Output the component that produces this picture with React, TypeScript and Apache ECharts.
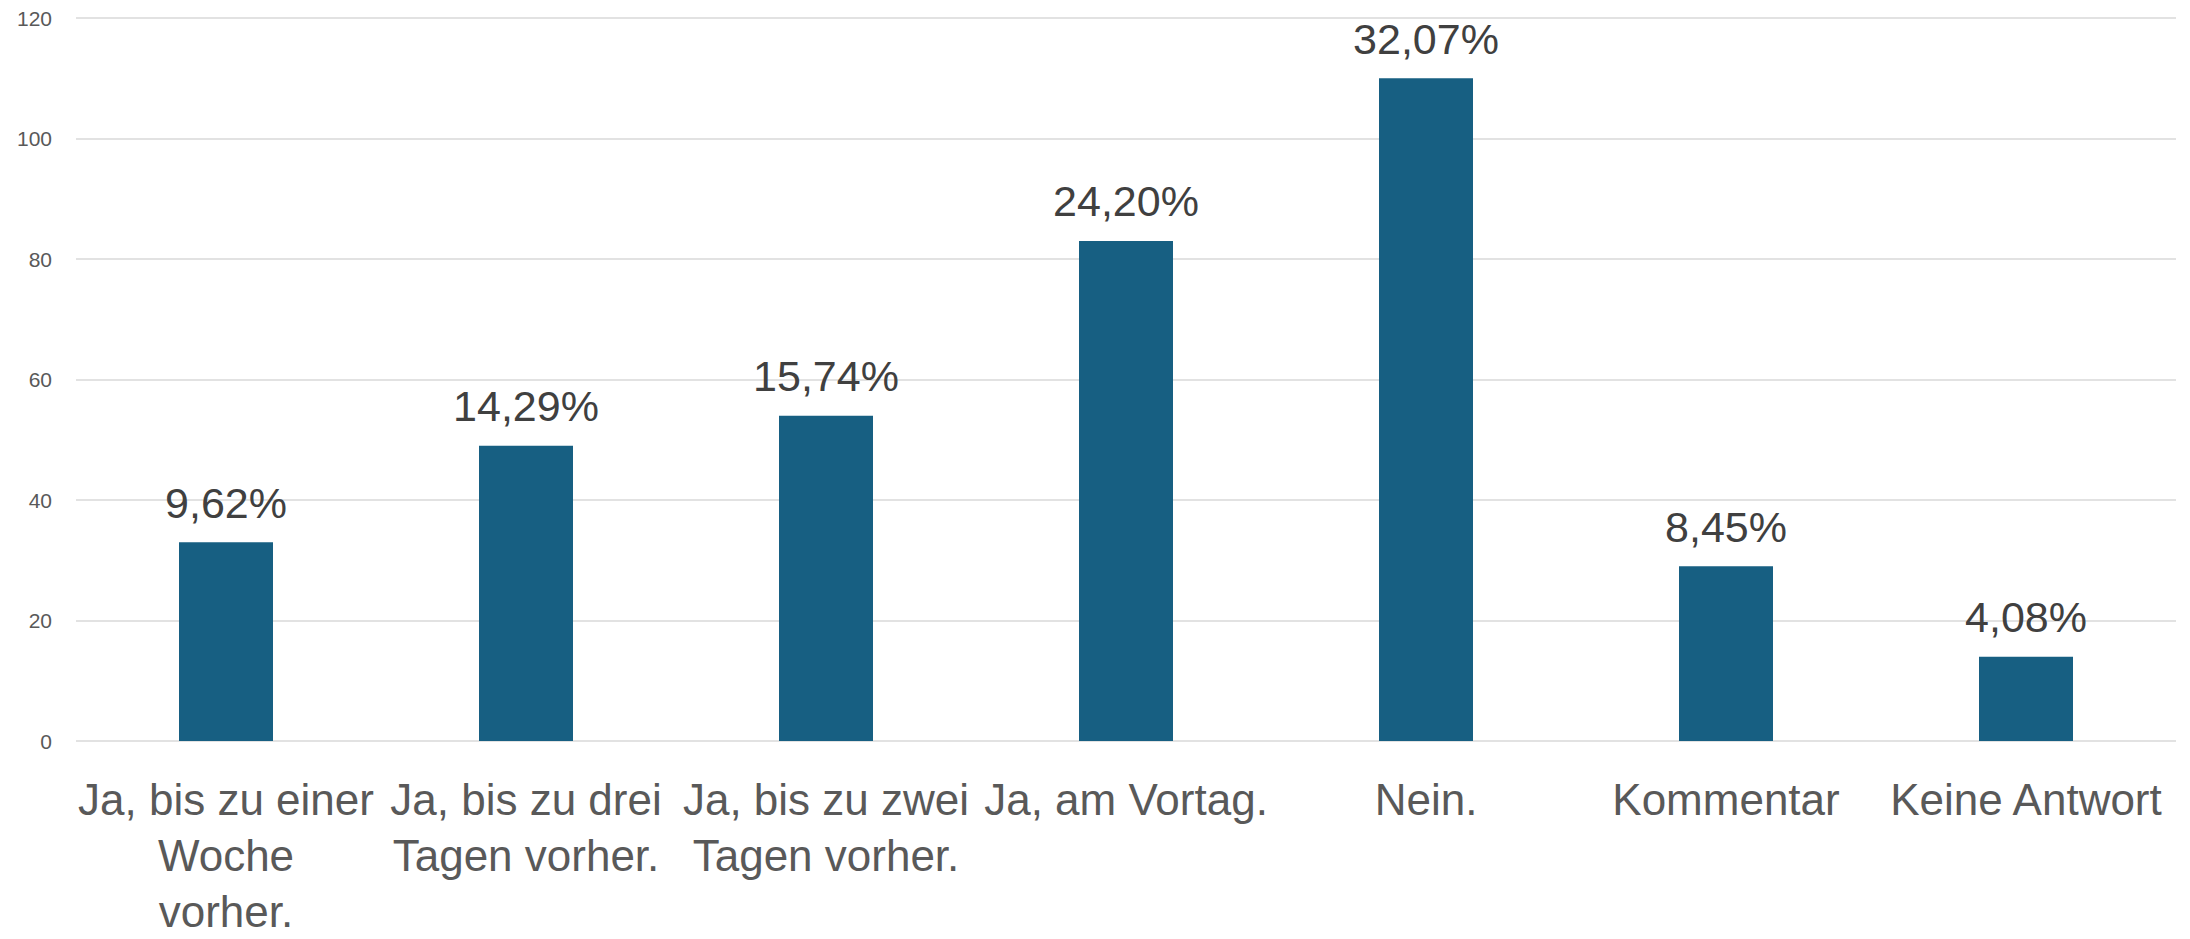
import React, { useEffect, useRef } from "react";
import * as echarts from "echarts";

const categories = [
  "Ja, bis zu einer\nWoche\nvorher.",
  "Ja, bis zu drei\nTagen vorher.",
  "Ja, bis zu zwei\nTagen vorher.",
  "Ja, am Vortag.",
  "Nein.",
  "Kommentar",
  "Keine Antwort",
];
const counts = [33, 49, 54, 83, 110, 29, 14];
const percentLabels = ["9,62%", "14,29%", "15,74%", "24,20%", "32,07%", "8,45%", "4,08%"];
const yTicks = { min: 0, max: 120, interval: 20 };

export default function App() {
  const ref = useRef<HTMLDivElement>(null);
  useEffect(() => {
    if (!ref.current) return;
    const chart = echarts.init(ref.current, null, { renderer: "svg" });
    chart.setOption({
      animation: false,
      backgroundColor: "#ffffff",
      grid: { left: 76, right: 14, top: 18, bottom: 185, containLabel: false },
      xAxis: {
        type: "category",
        data: categories,
        axisLine: { show: false },
        axisTick: { show: false },
        axisLabel: {
          interval: 0,
          margin: 30,
          fontSize: 44,
          lineHeight: 56,
          color: "#595959",
          fontFamily: "Liberation Sans, Arial, sans-serif",
          align: "center",
        },
      },
      yAxis: {
        type: "value",
        min: yTicks.min,
        max: yTicks.max,
        interval: yTicks.interval,
        axisLine: { show: false },
        axisTick: { show: false },
        axisLabel: {
          fontSize: 21,
          color: "#595959",
          margin: 24,
          fontFamily: "Liberation Sans, Arial, sans-serif",
        },
        splitLine: { lineStyle: { color: "#d9d9d9", width: 1.5 } },
      },
      series: [
        {
          type: "bar",
          data: counts,
          barWidth: 94,
          itemStyle: { color: "#175f82" },
          label: {
            show: true,
            position: "top",
            distance: 18,
            fontSize: 43,
            color: "#404040",
            fontFamily: "Liberation Sans, Arial, sans-serif",
            formatter: (p: any) => percentLabels[p.dataIndex],
          },
        },
      ],
    });
    return () => chart.dispose();
  }, []);
  return (
    <div
      ref={ref}
      style={{ position: "fixed", left: 0, top: 0, width: 2190, height: 939 }}
    />
  );
}
